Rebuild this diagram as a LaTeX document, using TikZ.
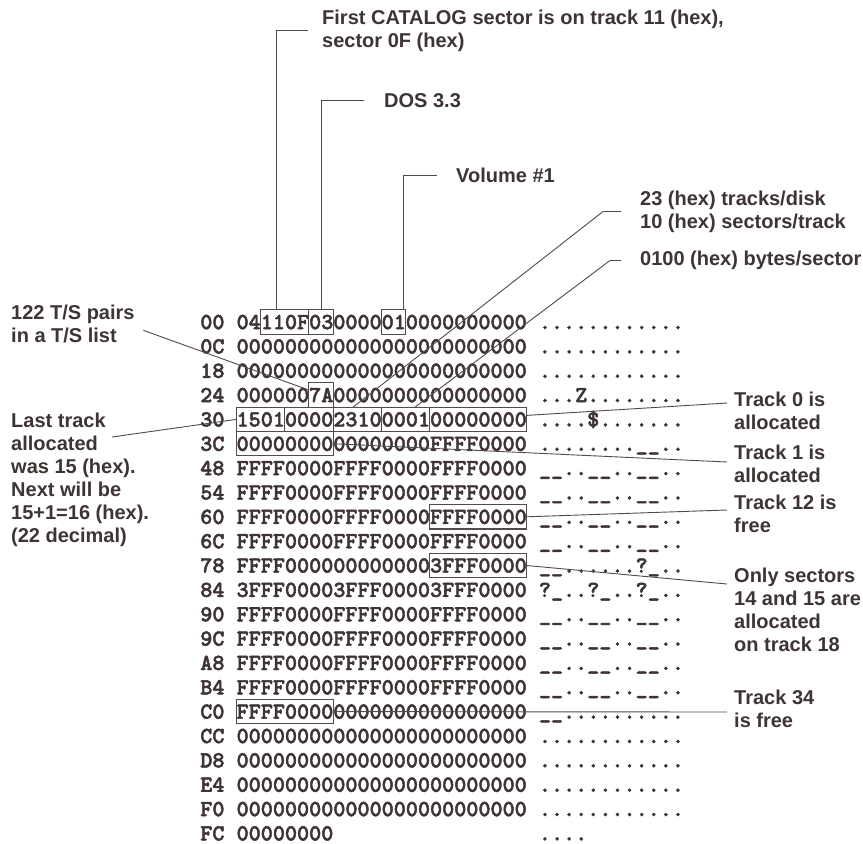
\documentclass[tikz,border=0pt]{standalone}
\usepackage{fontspec}
\newfontfamily\labf{Liberation Sans}
\newfontfamily\hexfnt{lmmonolt10-bold.otf}[FakeBold=2]
\usetikzlibrary{calc}
\definecolor{inkc}{RGB}{62,52,52}
\definecolor{linec}{RGB}{84,74,74}
\newcommand\dumprow[4]{%
  \node[hexf] (o#1) at (200.1,{329.1+#1*24.35}) {#2};
  \node[hexf] (h#1) at (236.4,{329.1+#1*24.35}) {#3};
  \node[hexf] (a#1) at (538.7,{329.1+#1*24.35}) {#4};}
\newcommand\bitfield[4]{%
  \node[bitbox, minimum width={#3*12.09pt}] (#1) at ({236.4+#2*12.09},{322+#4*24.35}) {};}
\begin{document}
\begin{tikzpicture}[x=1pt,y=-1pt,
  hexf/.style={font=\hexfnt\fontsize{23.03}{24}\selectfont, inner sep=0pt, anchor=base west, text=inkc},
  lab/.style={font=\labf\bfseries\fontsize{20}{23}\selectfont, inner sep=0pt, align=left, anchor=north west, text=inkc},
  bitbox/.style={draw=linec, line width=1.1pt, inner sep=0pt, outer sep=0pt, minimum height=24.35pt, anchor=west},
  leader/.style={draw=linec, line width=0.9pt}]
\fill[white] (0,0) rectangle (863,844);
\useasboundingbox (0,0) rectangle (863,844);

% hex dump
\dumprow{0}{00}{04110F030000010000000000}{............}
\dumprow{1}{0C}{000000000000000000000000}{............}
\dumprow{2}{18}{000000000000000000000000}{............}
\dumprow{3}{24}{0000007A0000000000000000}{...Z........}
\dumprow{4}{30}{150100002310000100000000}{....\$.......}
\dumprow{5}{3C}{0000000000000000FFFF0000}{........\_\_..}
\dumprow{6}{48}{FFFF0000FFFF0000FFFF0000}{\_\_..\_\_..\_\_..}
\dumprow{7}{54}{FFFF0000FFFF0000FFFF0000}{\_\_..\_\_..\_\_..}
\dumprow{8}{60}{FFFF0000FFFF0000FFFF0000}{\_\_..\_\_..\_\_..}
\dumprow{9}{6C}{FFFF0000FFFF0000FFFF0000}{\_\_..\_\_..\_\_..}
\dumprow{10}{78}{FFFF0000000000003FFF0000}{\_\_......?\_..}
\dumprow{11}{84}{3FFF00003FFF00003FFF0000}{?\_..?\_..?\_..}
\dumprow{12}{90}{FFFF0000FFFF0000FFFF0000}{\_\_..\_\_..\_\_..}
\dumprow{13}{9C}{FFFF0000FFFF0000FFFF0000}{\_\_..\_\_..\_\_..}
\dumprow{14}{A8}{FFFF0000FFFF0000FFFF0000}{\_\_..\_\_..\_\_..}
\dumprow{15}{B4}{FFFF0000FFFF0000FFFF0000}{\_\_..\_\_..\_\_..}
\dumprow{16}{C0}{FFFF00000000000000000000}{\_\_..........}
\dumprow{17}{CC}{000000000000000000000000}{............}
\dumprow{18}{D8}{000000000000000000000000}{............}
\dumprow{19}{E4}{000000000000000000000000}{............}
\dumprow{20}{F0}{000000000000000000000000}{............}
\dumprow{21}{FC}{00000000}{....}

% boxes
\bitfield{b110F}{2}{4}{0}
\bitfield{b03}{6}{2}{0}
\bitfield{b01}{12}{2}{0}
\bitfield{b7A}{6}{2}{3}
\bitfield{b1501}{0}{4}{4}
\bitfield{b0000}{4}{4}{4}
\bitfield{b2310}{8}{4}{4}
\bitfield{b0001}{12}{4}{4}
\bitfield{bT0}{16}{8}{4}
\bitfield{bT1}{0}{8}{5}
\bitfield{bT12}{16}{8}{8}
\bitfield{bT18}{16}{8}{10}
\bitfield{bT34}{0}{8}{16}

% labels
\node[lab] (catalog) at (322,9.5) {First CATALOG sector is on track 11 (hex),\\sector 0F (hex)};
\node[lab] (dos) at (384,93.5) {DOS 3.3};
\node[lab] (vol) at (456,167.5) {Volume \#1};
\node[lab] (geom) at (640,190.5) {23 (hex) tracks/disk\\10 (hex) sectors/track};
\node[lab] (bps) at (640,251) {0100 (hex) bytes/sector};
\node[lab] (t0) at (734,391.5) {Track 0 is\\allocated};
\node[lab] (t1) at (734,444.5) {Track 1 is\\allocated};
\node[lab] (t12) at (734,494.5) {Track 12 is\\free};
\node[lab] (t18) at (734,567.5) {Only sectors\\14 and 15 are\\allocated\\on track 18};
\node[lab] (t34) at (734,689.5) {Track 34\\is free};
\node[lab] (tsl) at (11,304.5) {122 T/S pairs\\in a T/S list};
\node[lab] (last) at (11,412.5) {Last track\\allocated\\was 15 (hex).\\Next will be\\15+1=16 (hex).\\(22 decimal)};

% leaders
\draw[leader] ([xshift=-8.3pt]b110F.north) |- ([xshift=-14pt]catalog.west);
\draw[leader] (b03.north) |- ([xshift=-20pt]dos.west);
\draw[leader] ([xshift=9.4pt]b01.north) |- ([xshift=-19pt]vol.west);
\draw[leader] ([xshift=-4.3pt]b2310.north) -- ([xshift=-37pt]geom.west) -- ([xshift=-19pt]geom.west);
\draw[leader] ([xshift=9.2pt]b0001.north) -- ([xshift=-30pt]bps.west) -- ([xshift=-19pt]bps.west);
\draw[leader] ([shift={(8.6pt,-6.7pt)}]tsl.east) -- ([yshift=5pt]b7A.west);
\draw[leader] ([shift={(101pt,-24.5pt)}]last.north west) -- (b1501.west);
\draw[leader] ([yshift=4pt]bT0.east) -- ([shift={(-7pt,-11.5pt)}]t0.north west);
\draw[leader] (bT1.east) -- ([shift={(-7pt,-17.5pt)}]t1.north west);
\draw[leader] (bT12.east) -- ([shift={(-7pt,-15.5pt)}]t12.north west);
\draw[leader] (bT18.east) -- ([shift={(-7pt,-16.5pt)}]t18.north west);
\draw[leader] (bT34.east) -- ([shift={(-7pt,-22.5pt)}]t34.north west);
\end{tikzpicture}
\end{document}
